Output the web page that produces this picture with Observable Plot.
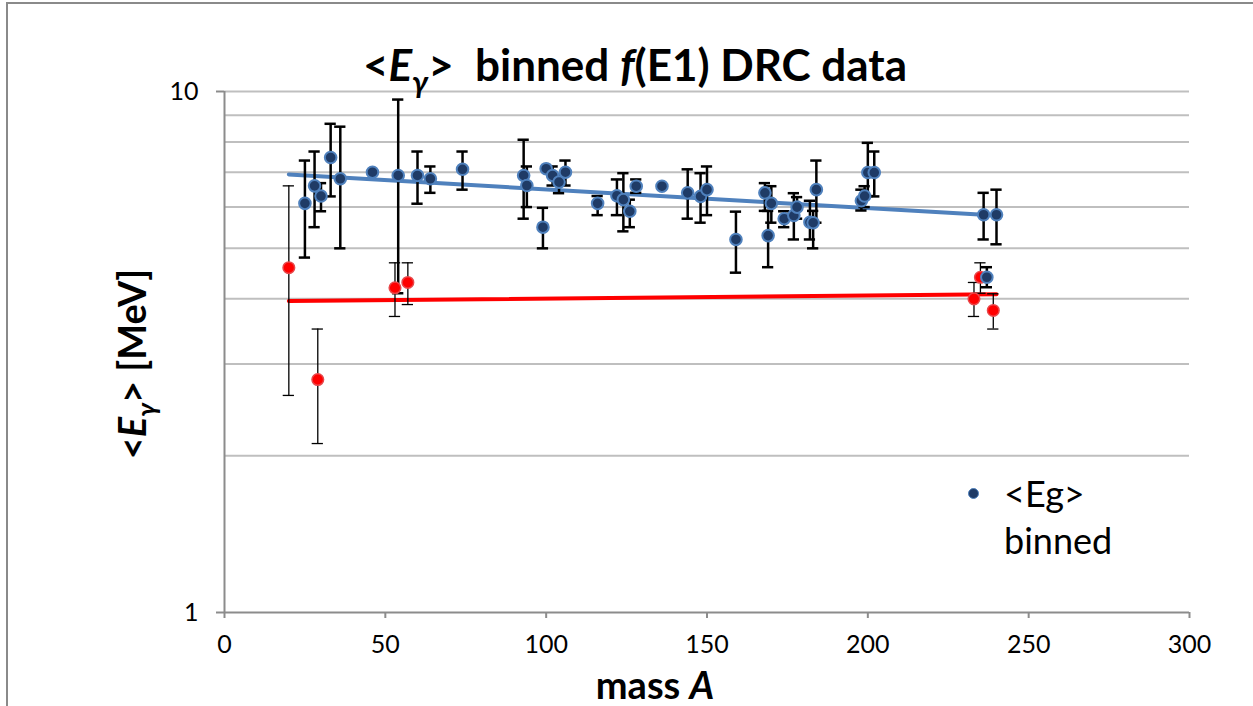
<!DOCTYPE html>
<html>
<head>
<meta charset="utf-8">
<script src="https://cdn.jsdelivr.net/npm/d3@7"></script>
<script src="https://cdn.jsdelivr.net/npm/@observablehq/plot@0.6"></script>
<style>
  html, body { margin: 0; padding: 0; background: #fff; }
  #wrap { position: relative; width: 1253px; height: 706px; overflow: hidden; font-family: Lato, "Open Sans", sans-serif; }
  #border { position: absolute; left: 6px; top: 2px; width: 1400px; height: 900px; border-left: 2px solid #8a8a8a; border-top: 2px solid #8a8a8a; }
  #chart { position: absolute; left: 0; top: 0; }
  .lbl { position: absolute; font-weight: bold; color: #000; white-space: nowrap; line-height: 1; transform: translate(-50%, -50%); }
  #title { left: 635px; top: 64px; font-size: 44px; }
  #xlabel { left: 655px; top: 684px; font-size: 38px; }
  #ylabel { left: 131px; top: 364px; font-size: 38px; transform: translate(-50%, -50%) rotate(-90deg); }
  sub { font-size: 0.7em; vertical-align: -0.38em; line-height: 0; }
  #legend { position: absolute; left: 966px; top: 470px; font-size: 36px; color: #000; }
  #legend .dot { position: absolute; left: 2px; top: 18px; width: 9px; height: 9px; border-radius: 50%; background: #1f3b66; border: 1.5px solid #4f81bd; }
  #legend .txt { position: absolute; left: 38px; top: 0; line-height: 47px; white-space: nowrap; }
</style>
</head>
<body>
<div id="wrap">
  <div id="border"></div>
  <div id="chart"></div>
  <div id="title" class="lbl">&lt;<i>E</i><sub><i>γ</i></sub>&gt;&nbsp; binned <i>f</i>(E1) DRC data</div>
  <div id="ylabel" class="lbl">&lt;<i>E</i><sub><i>γ</i></sub>&gt; [MeV]</div>
  <div id="xlabel" class="lbl">mass <i>A</i></div>
  <div id="legend"><div class="dot"></div><div class="txt">&lt;Eg&gt;<br>binned</div></div>
</div>
<script>
// Blue series: <Eg> binned (mass A, mean E, error bar top, error bar bottom)
const blueA  = [25, 28, 30, 33, 36, 46, 54, 60, 64, 74, 93, 94, 99, 100, 102, 104, 106, 116, 122, 124, 126, 128, 136, 144, 148, 150, 159, 168, 169, 170, 174, 177, 178, 182, 183, 184, 198, 199, 200, 202, 236, 237, 240];
const blueE  = [6.10, 6.59, 6.30, 7.47, 6.80, 7.00, 6.90, 6.90, 6.80, 7.09, 6.90, 6.60, 5.49, 7.11, 6.90, 6.70, 7.00, 6.10, 6.31, 6.20, 5.89, 6.58, 6.58, 6.39, 6.29, 6.48, 5.20, 6.39, 5.29, 6.10, 5.70, 5.78, 6.00, 5.61, 5.60, 6.48, 6.17, 6.30, 6.99, 6.99, 5.80, 4.40, 5.80];
const blueHi = [7.37, 7.67, 6.67, 8.67, 8.56, null, 9.65, 7.67, 7.18, 7.67, 8.08, 7.18, 5.98, null, 7.18, 6.90, 7.37, 6.30, 6.78, 6.97, 6.20, 6.78, null, 7.09, 6.97, 7.18, 5.88, 6.67, 5.90, 6.58, 5.89, 6.38, 6.27, 6.17, 5.90, 7.37, 6.48, 6.58, 7.97, 7.67, 6.39, 4.60, 6.48];
const blueLo = [4.80, 5.49, 5.89, 6.29, 5.00, null, 4.10, 6.09, 6.39, 6.48, 5.70, 6.00, 5.00, null, 6.60, 6.38, 6.60, 5.79, 5.79, 5.39, 5.49, 6.39, null, 5.70, 5.60, 5.79, 4.49, 5.90, 4.60, 5.60, 5.49, 5.20, 5.70, 5.20, 5.00, 5.60, 5.91, 6.00, 6.30, 6.29, 5.20, 4.21, 5.09];

// Red series
const redA  = [20, 29, 53, 57, 233, 235, 239];
const redE  = [4.59, 2.80, 4.20, 4.30, 4.00, 4.40, 3.80];
const redHi = [6.59, 3.50, 4.69, 4.69, 4.30, 4.69, 4.09];
const redLo = [2.61, 2.11, 3.70, 3.90, 3.70, 4.10, 3.50];

// Trend lines
const trendA    = [20, 240];
const blueTrend = [6.93, 5.78];
const redTrend  = [3.96, 4.08];

// Axis ticks
const xTicks = [0, 50, 100, 150, 200, 250, 300];
const yTicks = [1, 10];
const yGrid  = [2, 3, 4, 5, 6, 7, 8, 9, 10];

const blue = blueA.map((a, i) => ({a, e: blueE[i], hi: blueHi[i], lo: blueLo[i]}));
const red  = redA.map((a, i) => ({a, e: redE[i], hi: redHi[i], lo: redLo[i]}));
const blueErr = blue.filter(d => d.hi != null);
const blueT = trendA.map((a, i) => ({a, e: blueTrend[i]}));
const redT  = trendA.map((a, i) => ({a, e: redTrend[i]}));

const capHalf = 1.75; // cap half-width in mass units

const chart = Plot.plot({
  width: 1253,
  height: 706,
  marginLeft: 224,
  marginRight: 64,
  marginTop: 91,
  marginBottom: 94,
  style: {fontFamily: "Lato, 'Open Sans', sans-serif", fontSize: "25px", background: "transparent", overflow: "visible"},
  x: {domain: [0, 300], ticks: xTicks},
  y: {type: "log", domain: [1, 10]},
  marks: [
    Plot.ruleY(yGrid, {stroke: "#bfbfbf", strokeWidth: 2}),
    Plot.ruleX([0], {y1: 1, y2: 10, stroke: "#8c8c8c", strokeWidth: 2}),
    Plot.ruleY([1], {x1: 0, x2: 300, stroke: "#8c8c8c", strokeWidth: 2}),
    Plot.axisX({ticks: xTicks, tickSize: 6, tickPadding: 17, stroke: "#8c8c8c", strokeWidth: 2, fill: "#000", label: null, tickFormat: d => String(d), fontSize: 25}),
    Plot.axisY({ticks: yTicks, tickSize: 8, tickPadding: 18, stroke: "#8c8c8c", strokeWidth: 2, fill: "#000", label: null, tickFormat: d => String(d), fontSize: 25}),
    // trend lines
    Plot.line(blueT, {x: "a", y: "e", stroke: "#4f81bd", strokeWidth: 4}),
    Plot.line(redT, {x: "a", y: "e", stroke: "#ff0000", strokeWidth: 4}),
    // error bars red (thin)
    Plot.ruleX(red, {x: "a", y1: "lo", y2: "hi", stroke: "#000", strokeWidth: 1.3}),
    Plot.ruleY(red, {y: "hi", x1: d => d.a - capHalf, x2: d => d.a + capHalf, stroke: "#000", strokeWidth: 1.3}),
    Plot.ruleY(red, {y: "lo", x1: d => d.a - capHalf, x2: d => d.a + capHalf, stroke: "#000", strokeWidth: 1.3}),
    // error bars blue (thick)
    Plot.ruleX(blueErr, {x: "a", y1: "lo", y2: "hi", stroke: "#000", strokeWidth: 2.5}),
    Plot.ruleY(blueErr, {y: "hi", x1: d => d.a - capHalf, x2: d => d.a + capHalf, stroke: "#000", strokeWidth: 2.5}),
    Plot.ruleY(blueErr, {y: "lo", x1: d => d.a - capHalf, x2: d => d.a + capHalf, stroke: "#000", strokeWidth: 2.5}),
    // points
    Plot.dot(red, {x: "a", y: "e", r: 5.8, fill: "#ff0000", stroke: "#e8474a", strokeWidth: 1.5}),
    Plot.dot(blue, {x: "a", y: "e", r: 5.8, fill: "#1f3b66", stroke: "#4f81bd", strokeWidth: 2})
  ]
});
document.getElementById("chart").appendChild(chart);
</script>
</body>
</html>
